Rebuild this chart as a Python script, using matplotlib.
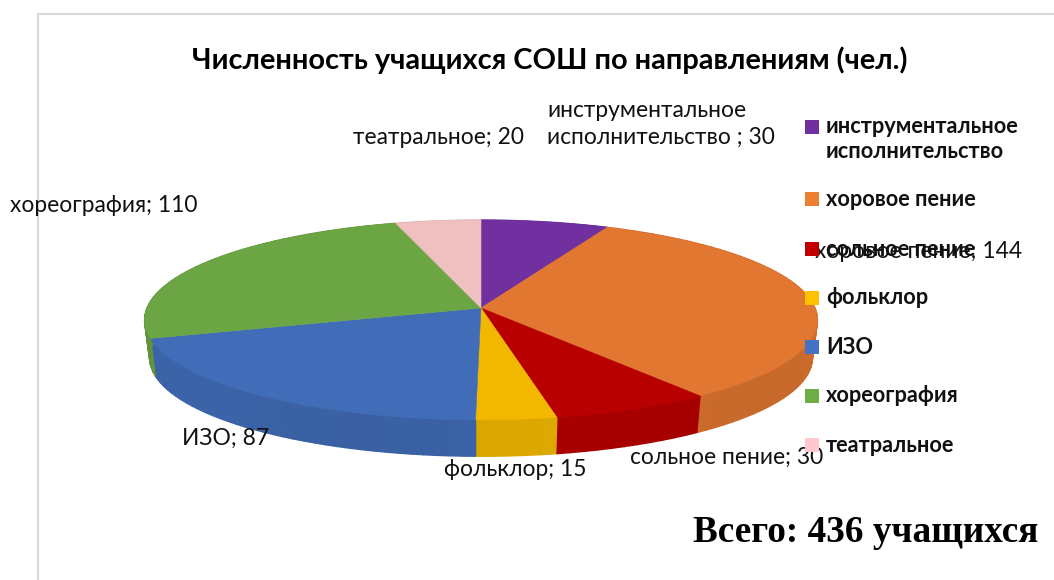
import numpy as np
import matplotlib.pyplot as plt
from matplotlib.patches import Polygon, Rectangle

plt.rcParams["font.family"] = ["Lato", "Open Sans", "DejaVu Sans"]

# Data
categories = [
    "инструментальное\nисполнительство",
    "хоровое пение",
    "сольное пение",
    "фольклор",
    "ИЗО",
    "хореография",
    "театральное",
]
values = [30, 144, 30, 15, 87, 110, 20]
colors = ["#7030a0", "#e17730", "#b80000", "#f2b800", "#416db8", "#6ca543", "#f0bfc0"]
legend_colors = ["#7030a0", "#ed7d31", "#c00000", "#ffc000", "#4472c4", "#70ad47", "#ffc7ce"]

# label text, left x and centre y in pixels
label_pos = [
    (547, 124, "инструментальное\nисполнительство ; 30"),
    (815, 251, "хоровое пение; 144"),
    (630, 457, "сольное пение; 30"),
    (444, 470, "фольклор; 15"),
    (182, 438, "ИЗО; 87"),
    (10, 206, "хореография; 110"),
    (353, 137, "театральное; 20"),
]
legend_y = [127, 199, 249, 298, 347, 396, 445]

# Pie geometry in pixels
cx, cy = 481, 308
rx, ry = 334, 98.5
persp = 0.12
depth = 38
bottom_scale = 0.985


def rim(theta, scale=1.0, drop=0):
    # clockwise from 12 o'clock, with a little perspective
    u, v = np.sin(theta), np.cos(theta)
    d = 1 + persp * v
    return cx + scale * rx * u / d, cy + drop - scale * ry * v / d


def darken(col, f):
    return tuple(c * f for c in plt.matplotlib.colors.to_rgb(col))


fig = plt.figure(figsize=(10.54, 5.80), dpi=100)
ax = fig.add_axes([0, 0, 1, 1])
ax.set_xlim(0, 1054)
ax.set_ylim(580, 0)
ax.axis("off")

# chart frame, only top and left are in view
ax.plot([38, 38, 1054], [580, 14, 14], color="#d9d9d9", lw=1.5, zorder=1)

edges = np.cumsum([0] + values) / sum(values) * 2 * np.pi

# side wall
for i, col in enumerate(colors):
    th = np.linspace(edges[i], edges[i + 1], max(int((edges[i + 1] - edges[i]) * 30), 3))
    for a, b in zip(th[:-1], th[1:]):
        xa, ya = rim(a)
        xb, yb = rim(b)
        xc, yc = rim(b, bottom_scale, depth)
        xd, yd = rim(a, bottom_scale, depth)
        shade = 0.90 + 0.015 * np.sin(a * 5)
        ax.add_patch(
            Polygon(
                [(xa, ya), (xb, yb), (xc, yc), (xd, yd)],
                fc=darken(col, shade),
                ec=darken(col, shade),
                lw=1.0,
                zorder=2,
            )
        )

# top face
for i, col in enumerate(colors):
    th = np.linspace(edges[i], edges[i + 1], 80)
    xs, ys = rim(th)
    pts = [(cx, cy)] + list(zip(xs, ys))
    ax.add_patch(Polygon(pts, fc=col, ec=col, lw=0.4, zorder=3))

# data labels
for x, y, txt in label_pos:
    ax.text(x, y, txt, fontsize=16.4, color="#111111", ha="left", va="center",
            linespacing=1.32, zorder=4)

# legend
for name, col, y in zip(categories, legend_colors, legend_y):
    ax.add_patch(Rectangle((805, y - 7), 14, 14, fc=col, ec="none", zorder=5))
    ax.text(826, y + (12 if "\n" in name else 0), name, fontsize=15.7, fontweight="bold",
            color="#111111", ha="left", va="center", linespacing=1.2, zorder=6)

ax.text(550, 60, "Численность учащихся СОШ по направлениям (чел.)", fontsize=20.9,
        fontweight="bold", color="black", ha="center", va="center", zorder=6)
ax.text(693, 533, "Всего: 436 учащихся", fontsize=26.8, fontweight="bold",
        family="Liberation Serif", color="black", ha="left", va="center", zorder=6)

fig.savefig("out.png", dpi=100)
